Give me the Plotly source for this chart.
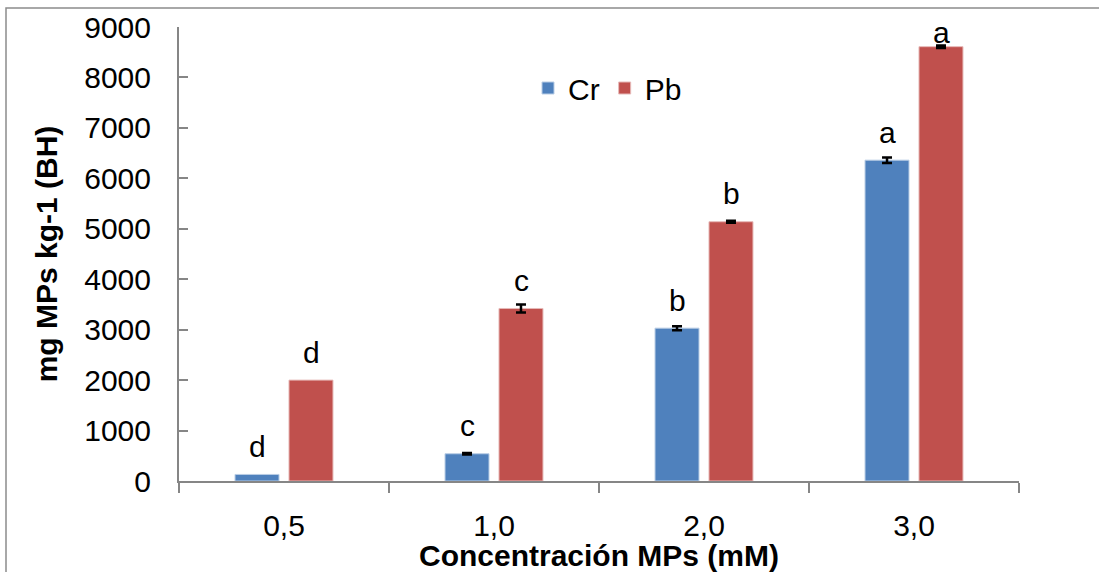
import plotly.graph_objects as go

categories = ["0,5", "1,0", "2,0", "3,0"]
cr_values = [130, 540, 3030, 6360]
pb_values = [2000, 3420, 5140, 8610]
cr_errors = [None, 15, 40, 55]
pb_errors = [None, 80, 20, 25]
cr_letters = ["d", "c", "b", "a"]
pb_letters = ["d", "c", "b", "a"]
y_ticks = [0, 1000, 2000, 3000, 4000, 5000, 6000, 7000, 8000, 9000]

BLUE = "#4F81BD"
RED = "#C0504D"
GRAY = "#868686"
FONT = "Liberation Sans, Arial, sans-serif"
FS = 30

W, H = 1099, 572
ML, MR, MT, MB = 179, 80, 27, 91
plot_w = W - ML - MR
plot_h = H - MT - MB
YMAX = 9000

fig = go.Figure()
for name, vals, errs, color, edge in (("Cr", cr_values, cr_errors, BLUE, "#B9CDE5"),
                                      ("Pb", pb_values, pb_errors, RED, "#E6B9B8")):
    fig.add_trace(go.Bar(
        name=name, x=categories, y=vals, offsetgroup=name,
        marker=dict(color=color, line=dict(color=edge, width=1)),
    ))
    # error bars only where a deviation was reported
    fig.add_trace(go.Bar(
        name=name + " error", x=categories, offsetgroup=name, showlegend=False, hoverinfo="skip",
        y=[v if e is not None else None for v, e in zip(vals, errs)],
        marker=dict(color="rgba(0,0,0,0)", line=dict(width=0)),
        error_y=dict(type="data", array=[e if e is not None else 0 for e in errs],
                     color="black", thickness=2.5, width=5),
    ))

# significance letters above bars
px_per_unit = plot_h / YMAX
for letters, vals, xs in ((cr_letters, cr_values, -27), (pb_letters, pb_values, 27)):
    for cat, v, t in zip(categories, vals, letters):
        dist_top = (YMAX - v) * px_per_unit
        shift = min(28, dist_top - 6)
        fig.add_annotation(x=cat, y=v, text=t, showarrow=False, xshift=xs, yshift=shift,
                           yanchor="middle", font=dict(size=FS, color="black", family=FONT))

# outer chart border (Excel chart area frame)
fig.add_shape(type="rect", xref="paper", yref="paper",
              x0=(6 - ML) / plot_w, x1=(W + 20 - ML) / plot_w,
              y0=-(H + 20 - (H - MB)) / plot_h, y1=(H - MB - 8) / plot_h,
              line=dict(color="#8C8C8C", width=1.5), fillcolor="rgba(0,0,0,0)", layer="below")

fig.update_layout(
    width=W, height=H,
    margin=dict(l=ML, r=MR, t=MT, b=MB, pad=0, autoexpand=False),
    paper_bgcolor="white", plot_bgcolor="white",
    barmode="group", bargap=0.486, bargroupgap=0.185,
    font=dict(family=FONT, size=FS, color="black"),
    showlegend=True,
    legend=dict(orientation="h", x=(528 - ML) / plot_w, y=(H - MB - 88) / plot_h,
                xanchor="left", yanchor="middle", font=dict(size=FS, family=FONT),
                bgcolor="rgba(0,0,0,0)", itemclick=False),
    xaxis=dict(
        type="category", showline=True, linecolor=GRAY, linewidth=2,
        ticks="outside", tickson="boundaries", ticklen=10, tickcolor=GRAY, tickwidth=1.5,
        tickfont=dict(size=FS, family=FONT), showgrid=False, zeroline=False,
        ticklabelstandoff=17, automargin=False,
        title=dict(text="<b>Concentración MPs (mM)</b>", font=dict(size=FS, family=FONT), standoff=2),
    ),
    yaxis=dict(
        range=[0, YMAX], tickvals=y_ticks, showline=True, linecolor=GRAY, linewidth=2,
        ticks="inside", ticklen=9, tickcolor=GRAY, tickwidth=1.5,
        tickfont=dict(size=FS, family=FONT), showgrid=False, zeroline=False,
        ticklabelstandoff=20, automargin=False,
        title=dict(text="<b>mg MPs kg-1 (BH)</b>", font=dict(size=FS, family=FONT), standoff=18),
    ),
)

fig.write_html("out.html", config={"displayModeBar": False},
               post_script="document.body.style.margin='0px';document.body.style.overflow='hidden';")
